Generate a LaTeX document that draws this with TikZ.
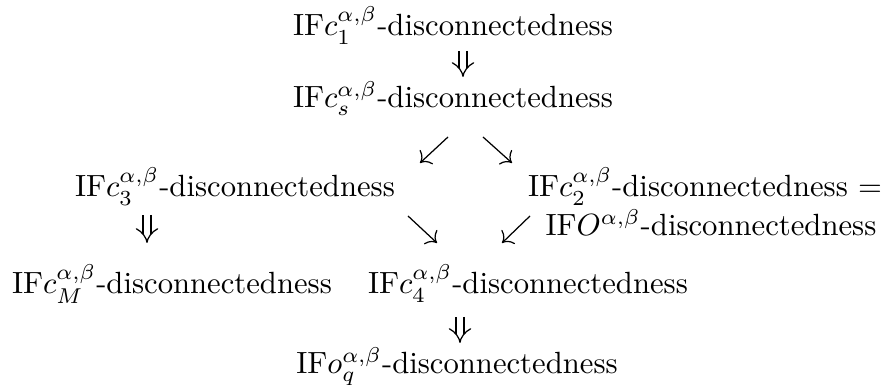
\documentclass[tikz,border=0pt]{standalone}
\usepackage{tikz}
\usetikzlibrary{arrows.meta}

\begin{document}
\begin{tikzpicture}[
  x=0.326pt, y=-0.326pt,
  stmt/.style={anchor=base, inner sep=0pt, outer sep=0pt},
  implies/.style={double, double distance=2.2pt, line width=0.4pt, -{Implies}},
  leadsto/.style={line width=0.4pt, -{Computer Modern Rightarrow[length=3pt]}}
]
\useasboundingbox (0,0) rectangle (887,385);

% ============================================================
% STATEMENTS
% ============================================================
\node[stmt] (c1) at (453,36) {IF$c_1^{\alpha,\beta}$-disconnectedness};
\node[stmt] (cs) at (453,108) {IF$c_s^{\alpha,\beta}$-disconnectedness};
\node[stmt] (c3) at (235,197) {IF$c_3^{\alpha,\beta}$-disconnectedness};
\node[stmt] (c2) at (705,197) {IF$c_2^{\alpha,\beta}$-disconnectedness $=$};
\node[stmt] (cO) at (711,236) {IF$O^{\alpha,\beta}$-disconnectedness};
\node[stmt] (cM) at (172,294) {IF$c_M^{\alpha,\beta}$-disconnectedness};
\node[stmt] (c4) at (528,294) {IF$c_4^{\alpha,\beta}$-disconnectedness};
\node[stmt] (oq) at (457,374) {IF$o_q^{\alpha,\beta}$-disconnectedness};

% ============================================================
% IMPLICATIONS
% ============================================================
\draw[implies] ([shift={(10,15)}]c1.base) -- ([shift={(10,-31)}]cs.base);
\draw[leadsto] ([shift={(-5,29)}]cs.base) -- ([shift={(185,-34)}]c3.base);
\draw[leadsto] ([shift={(30,29)}]cs.base) -- ([shift={(-193,-34)}]c2.base);
\draw[implies] ([shift={(-88,18)}]c3.base) -- ([shift={(-25,-51)}]cM.base);
\draw[leadsto] ([shift={(173,19)}]c3.base) -- ([shift={(-91,-51)}]c4.base);
\draw[leadsto] ([shift={(-181,-20)}]cO.base) -- ([shift={(-26,-51)}]c4.base);
\draw[implies] ([shift={(-68,23)}]c4.base) -- ([shift={(3,-31)}]oq.base);

\end{tikzpicture}
\end{document}
